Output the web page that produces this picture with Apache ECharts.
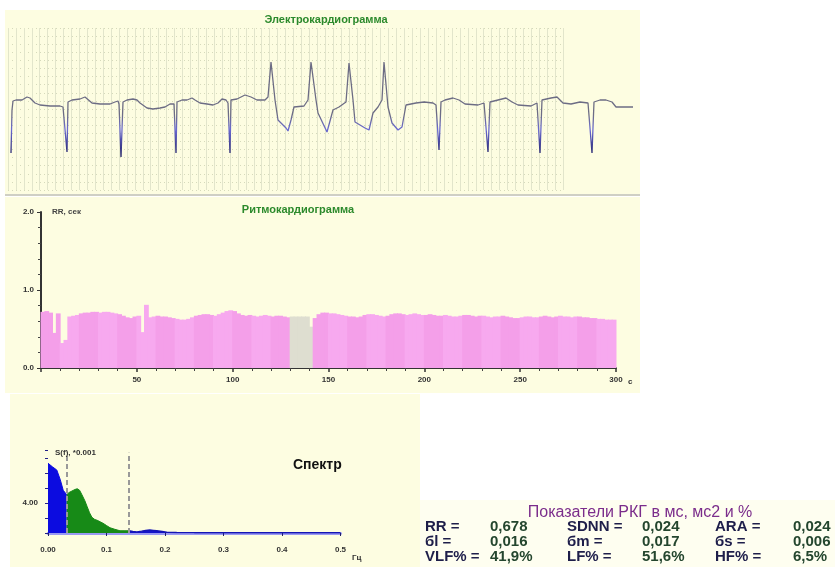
<!DOCTYPE html>
<html>
<head>
<meta charset="utf-8">
<script src="https://cdn.jsdelivr.net/npm/echarts@6/dist/echarts.min.js"></script>
<style>
  html, body { margin: 0; padding: 0; background: #fff; }
  #chart { width: 835px; height: 567px; }
</style>
</head>
<body>
<div id="chart"></div>
<script>
// ЭКГ: [отсчёт, амплитуда в усл. ед.]
const ecgTrace = [
  [3, -50], [4, -7], [5, 2], [8, 3], [14, 3], [19, 6], [22, 5], [27, 0], [32, -2], [42, -3],
  [52, -3], [55, -4], [57, -5], [59, -49], [60, 1], [64, 3], [72, 4], [77, 6], [79, 5], [84, 0],
  [92, -1], [102, -1], [107, 1], [110, 2], [111, -1], [113, -54], [115, 1], [119, 3], [125, 4], [129, 3],
  [132, 0], [139, -5], [145, -6], [152, -5], [157, -4], [162, -1], [166, -1], [168, -50], [169, 1], [174, 3],
  [179, 3], [184, 5], [187, 3], [192, 0], [199, -1], [205, -2], [210, 0], [214, 4], [218, 3], [220, 0],
  [222, -50], [223, 3], [229, 4], [237, 8], [243, 6], [249, 3], [257, 3], [260, 6], [263, 41], [265, 41],
  [267, 3], [270, -17], [278, -25], [280, -28], [283, -17], [286, -4], [296, -3], [300, 3], [303, 41], [305, 40],
  [308, 3], [310, -10], [319, -29], [321, -29], [325, -7], [331, -4], [338, 1], [341, 40], [343, 39], [345, 3],
  [347, -19], [357, -25], [361, -27], [365, -10], [370, -4], [374, 3], [376, 41], [378, 40], [380, -4], [384, -20],
  [390, -27], [394, -24], [398, -2], [408, 0], [416, 1], [425, 0], [428, -2], [431, -47], [433, 1], [437, 3],
  [445, 5], [451, 3], [457, -1], [470, -2], [476, 0], [478, -1], [480, -49], [482, 1], [490, 3], [498, 5],
  [504, 1], [510, -2], [523, -3], [529, 0], [530, -1], [532, -50], [534, 3], [543, 5], [549, 6], [555, 0],
  [563, -1], [572, 1], [580, 0], [582, -1], [584, -50], [586, 1], [592, 3], [598, 3], [604, 1], [608, -4],
  [625, -4]
];

// Ритмокардиограмма: RR, сек с шагом 2 с
const rrStep = 2;
const rrValues = [
  0.72, 0.73, 0.71, 0.45, 0.70, 0.32, 0.36, 0.66, 0.67, 0.68,
  0.70, 0.71, 0.71, 0.72, 0.72, 0.71, 0.72, 0.72, 0.71, 0.70,
  0.69, 0.67, 0.65, 0.64, 0.66, 0.67, 0.46, 0.81, 0.65, 0.66,
  0.67, 0.66, 0.66, 0.65, 0.64, 0.63, 0.62, 0.62, 0.63, 0.65,
  0.67, 0.68, 0.69, 0.69, 0.68, 0.67, 0.69, 0.71, 0.73, 0.74,
  0.73, 0.70, 0.68, 0.67, 0.68, 0.67, 0.66, 0.67, 0.68, 0.67,
  0.66, 0.67, 0.67, 0.66, 0.65,
  0.66, 0.66, 0.66, 0.66, 0.66, 0.53,
  0.64, 0.69, 0.71, 0.71, 0.70, 0.70, 0.69, 0.68, 0.67,
  0.66, 0.66, 0.65, 0.66, 0.68, 0.69, 0.69, 0.68, 0.67, 0.66,
  0.67, 0.69, 0.70, 0.70, 0.69, 0.68, 0.69, 0.70, 0.69, 0.68,
  0.68, 0.69, 0.68, 0.67, 0.67, 0.68, 0.67, 0.66, 0.66, 0.67,
  0.68, 0.68, 0.67, 0.66, 0.67, 0.67, 0.66, 0.65, 0.66, 0.66,
  0.67, 0.66, 0.65, 0.64, 0.64, 0.65, 0.66, 0.66, 0.65, 0.65,
  0.66, 0.67, 0.66, 0.65, 0.66, 0.67, 0.66, 0.66, 0.65, 0.66,
  0.66, 0.65, 0.65, 0.64, 0.64, 0.63, 0.63, 0.62, 0.62, 0.62
];
const rrArtifact = [65, 70]; // индексы серых (отбракованных) интервалов

// Спектр, S(f) *0.001
const bandEdges = [0.032, 0.138];
const vlfFreq = [0, 0.003, 0.008, 0.015, 0.021, 0.026, 0.032];
const vlfPow = [9.3, 9.1, 8.8, 8.4, 7.1, 5.7, 5.1];
const lfFreq = [0.032, 0.036, 0.041, 0.046, 0.050, 0.054, 0.058, 0.063, 0.067, 0.071, 0.075,
  0.080, 0.084, 0.089, 0.094, 0.100, 0.106, 0.114, 0.123, 0.130, 0.138];
const lfPow = [5.1, 5.4, 5.6, 5.8, 5.9, 5.7, 5.1, 4.3, 3.5, 2.7, 2.1,
  1.8, 1.7, 1.5, 1.3, 1.0, 0.7, 0.5, 0.3, 0.3, 0.3];
const hfFreq = [0.138, 0.145, 0.152, 0.160, 0.167, 0.174, 0.180, 0.186, 0.195, 0.203, 0.22, 0.25, 0.30, 0.40, 0.50];
const hfPow = [0.3, 0.2, 0.15, 0.25, 0.35, 0.4, 0.35, 0.3, 0.2, 0.1, 0.08, 0.05, 0.04, 0.03, 0.02];

// Показатели РКГ
const kpiLabels = [
  ['RR =', 'SDNN =', 'ARA ='],
  ['бl =', 'бm =', 'бs ='],
  ['VLF% =', 'LF% =', 'HF% =']
];
const kpiValues = [
  ['0,678', '0,024', '0,024'],
  ['0,016', '0,017', '0,006'],
  ['41,9%', '51,6%', '6,5%']
];

const FONT = "'Liberation Sans', Arial, sans-serif";
const chart = echarts.init(document.getElementById('chart'), null, { renderer: 'canvas' });

const rrData = rrValues.map((v, i) => [i * rrStep + rrStep / 2, v]);
const pink = ['#f49fe9', '#f7a9ef'];

const txt = (text, x, y, font, fill, align) => ({
  type: 'text', x: x, y: y, z: 10,
  style: { text: text, font: font, fill: fill, textAlign: align || 'left', textVerticalAlign: 'middle' }
});

const graphics = [
  // фоны панелей
  { type: 'rect', z: -10, shape: { x: 5, y: 10, width: 635, height: 186 }, style: { fill: '#fdfde1' } },
  { type: 'rect', z: -10, shape: { x: 5, y: 197, width: 635, height: 196 }, style: { fill: '#fdfde1' } },
  { type: 'rect', z: -10, shape: { x: 10, y: 394, width: 410, height: 173 }, style: { fill: '#fdfde1' } },
  { type: 'rect', z: -10, shape: { x: 420, y: 500, width: 415, height: 67 }, style: { fill: '#fefef0' } },
  { type: 'rect', z: -9, shape: { x: 5, y: 194, width: 635, height: 2 }, style: { fill: '#cfcfc4' } },
  txt('Электрокардиограмма', 326, 20, 'bold 11px ' + FONT, '#2c8a2c', 'center'),
  txt('Ритмокардиограмма', 298, 210, 'bold 11px ' + FONT, '#2c8a2c', 'center'),
  txt('RR, сек', 52, 212, 'bold 8px ' + FONT, '#444'),
  txt('с', 628, 382, 'bold 8px ' + FONT, '#333'),
  txt('S(f), *0.001', 55, 453, 'bold 8px ' + FONT, '#333'),
  txt('Спектр', 293, 465, 'bold 14px ' + FONT, '#111'),
  txt('Гц', 352, 558, 'bold 8px ' + FONT, '#333'),
  txt('Показатели РКГ в мс, мс2 и %', 640, 513, '16px ' + FONT, '#7b2d8b', 'center')
];
const labelX = [425, 567, 715];
const valueX = [490, 642, 793];
const rowY = [527, 542, 557];
kpiLabels.forEach((row, r) => {
  row.forEach((lab, c) => {
    graphics.push(txt(lab, labelX[c], rowY[r], 'bold 15px ' + FONT, '#1e1e4a'));
    graphics.push(txt(kpiValues[r][c], valueX[c], rowY[r], 'bold 15px ' + FONT, '#24462e'));
  });
});

const smallLabel = { fontFamily: FONT, fontSize: 8, fontWeight: 'bold', color: '#333' };

const option = {
  animation: false,
  backgroundColor: '#ffffff',
  graphic: { elements: graphics },
  grid: [
    { left: 8, top: 28, width: 627, height: 162 },
    { left: 8, top: 28, width: 555, height: 162 },
    { left: 41, top: 212, width: 575, height: 156 },
    { left: 48, top: 450.5, width: 292.5, height: 82.5 }
  ],
  xAxis: [
    { gridIndex: 0, type: 'value', min: 0, max: 627, show: false },
    {
      gridIndex: 1, type: 'value', min: 0, max: 70, interval: 1,
      axisLine: { show: false }, axisTick: { show: false }, axisLabel: { show: false },
      splitLine: { show: true, lineStyle: { color: '#e2e5cb', width: 1 } }
    },
    {
      gridIndex: 2, type: 'value', min: 0, max: 300, interval: 50,
      axisLine: { lineStyle: { color: '#333', width: 2 } },
      axisTick: { show: true, length: 4, lineStyle: { color: '#333', width: 1.5 } },
      minorTick: { show: true, splitNumber: 5, length: 3, lineStyle: { color: '#444' } },
      axisLabel: Object.assign({ margin: 8, formatter: v => (v === 0 ? '' : String(v)) }, smallLabel),
      splitLine: { show: false }
    },
    {
      gridIndex: 3, type: 'value', min: 0, max: 0.5, interval: 0.1,
      axisLine: { lineStyle: { color: '#9a9af2', width: 3 } },
      axisTick: { show: true, length: 3, lineStyle: { color: '#222266' } },
      axisLabel: Object.assign({ margin: 13, formatter: v => (v === 0 ? '0.00' : v.toFixed(1)) }, smallLabel),
      splitLine: { show: false }
    }
  ],
  yAxis: [
    { gridIndex: 0, type: 'value', min: -87, max: 75, show: false },
    {
      gridIndex: 1, type: 'value', min: 0, max: 20, interval: 1,
      axisLine: { show: false }, axisTick: { show: false }, axisLabel: { show: false },
      splitLine: { show: true, lineStyle: { color: '#d6dabb', width: 1, type: [1, 3] } }
    },
    {
      gridIndex: 2, type: 'value', min: 0, max: 2, interval: 1,
      axisLine: { show: true, lineStyle: { color: '#333', width: 2 } },
      axisTick: { show: true, length: 4, lineStyle: { color: '#333' } },
      minorTick: { show: true, splitNumber: 5, length: 3, lineStyle: { color: '#444' } },
      axisLabel: Object.assign({ margin: 7, formatter: v => v.toFixed(1) }, smallLabel),
      splitLine: { show: false }
    },
    {
      gridIndex: 3, type: 'value', min: 0, max: 11, interval: 2,
      axisLine: { show: false },
      axisTick: { show: true, length: 3, lineStyle: { color: '#222288' } },
      axisLabel: Object.assign({ margin: 10, formatter: v => (v === 4 ? '4.00' : '') }, smallLabel),
      splitLine: { show: false }
    }
  ],
  series: [
    {
      name: 'ЭКГ', type: 'line', xAxisIndex: 0, yAxisIndex: 0,
      data: ecgTrace, showSymbol: false, silent: true,
      lineStyle: {
        width: 1.3,
        color: new echarts.graphic.LinearGradient(0, 0, 0, 1, [
          { offset: 0, color: '#6c6c84' },
          { offset: 0.55, color: '#6c6c84' },
          { offset: 0.7, color: '#6a6ad2' },
          { offset: 1, color: '#1a1a5a' }
        ])
      }
    },
    {
      name: 'RR', type: 'bar', xAxisIndex: 2, yAxisIndex: 2,
      data: rrData, barWidth: 4.8, silent: true,
      itemStyle: {
        color: p => {
          const i = p.dataIndex;
          if (i >= rrArtifact[0] && i <= rrArtifact[1]) return '#deded0';
          return pink[Math.floor(i / 5) % 2];
        }
      }
    },
    {
      name: 'VLF', type: 'line', xAxisIndex: 3, yAxisIndex: 3,
      data: vlfFreq.map((f, i) => [f, vlfPow[i]]),
      showSymbol: false, silent: true,
      lineStyle: { color: '#0c0ce0', width: 1 },
      areaStyle: { color: '#0c0ce0', opacity: 1 },
      markLine: {
        silent: true, symbol: 'none', label: { show: false },
        lineStyle: { color: '#999999', type: [5, 3], width: 2 },
        data: bandEdges.map(f => [{ coord: [f, 0] }, { coord: [f, 10.7] }])
      }
    },
    {
      name: 'LF', type: 'line', xAxisIndex: 3, yAxisIndex: 3,
      data: lfFreq.map((f, i) => [f, lfPow[i]]),
      showSymbol: false, silent: true,
      lineStyle: { color: '#178a17', width: 1 },
      areaStyle: { color: '#178a17', opacity: 1 }
    },
    {
      name: 'HF', type: 'line', xAxisIndex: 3, yAxisIndex: 3,
      data: hfFreq.map((f, i) => [f, hfPow[i]]),
      showSymbol: false, silent: true,
      lineStyle: { color: '#1414b4', width: 1.5 },
      areaStyle: { color: '#1414c8', opacity: 1 }
    }
  ]
};

chart.setOption(option);
</script>
</body>
</html>
